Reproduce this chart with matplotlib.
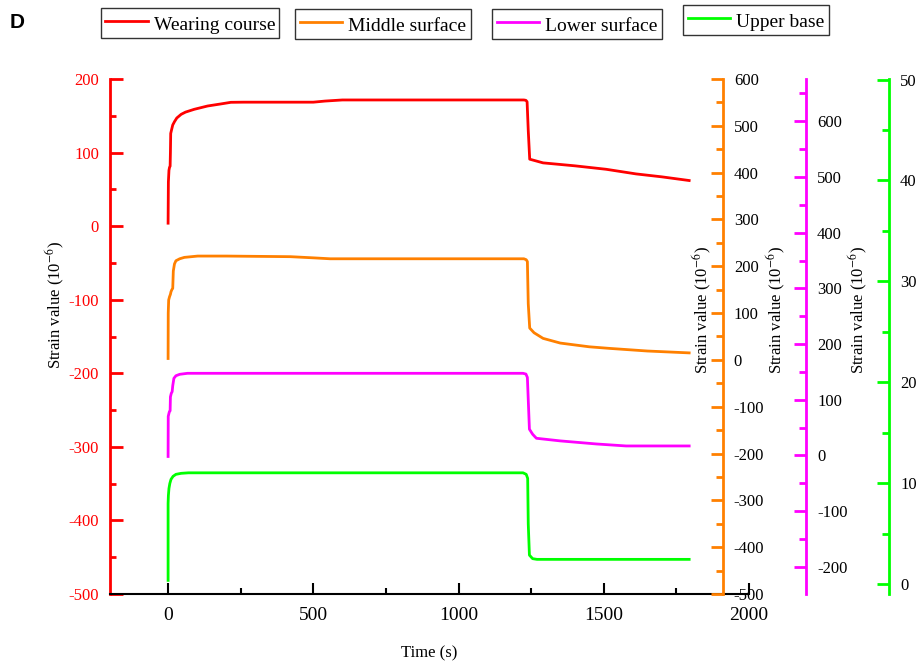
import numpy as np
import matplotlib.pyplot as plt
from matplotlib.ticker import MultipleLocator
from matplotlib.lines import Line2D

plt.rcParams['font.family'] = ['Liberation Serif', 'DejaVu Serif']
plt.rcParams['mathtext.fontset'] = 'stix'
plt.rcParams['axes.unicode_minus'] = False

# wearing course (left axis)
t_wc = [0, 1, 3, 5, 7, 8, 9, 12, 16, 22, 30, 45, 60, 90, 136, 180, 216, 260, 500, 540, 600,
        1225, 1232, 1236, 1240, 1245, 1291, 1400, 1508, 1611, 1700, 1794]
s_wc = [4, 60, 76, 80, 81.5, 100, 126, 131, 137.5, 142, 147, 152, 155, 158.8, 163.3, 166, 168.3, 168.5, 168.5, 170, 171.5,
        171.5, 171, 169, 130, 91, 86, 82, 77.3, 71, 67, 62]

# middle surface (orange axis)
t_ms = [0, 0.5, 2, 5, 8, 10, 13, 16, 18, 22, 27, 40, 56, 102, 200, 421, 500, 558,
        1225, 1233, 1237, 1240, 1245, 1260, 1291, 1350, 1450, 1520, 1650, 1794]
s_ms = [3, 100, 128, 135, 140, 145.6, 150, 153, 190, 205, 211.8, 216, 219, 221.8, 221.8, 220.5, 218, 216,
        216, 214, 210, 120, 68, 58, 46, 36, 28, 24.6, 19, 15]

# lower surface (magenta axis)
t_ls = [0, 0.5, 3, 4.5, 7, 8, 11, 14, 16, 20, 27, 40, 67, 1222, 1232, 1237, 1240, 1244,
        1255, 1268, 1350, 1474, 1577, 1794]
s_ls = [-2, 70, 75.6, 78.5, 80, 105, 111.5, 114.4, 125, 138.4, 143, 145.6, 147.4, 147.4, 146, 140, 100, 47,
        38, 30.7, 26, 20.5, 16.9, 16.9]

# upper base (green axis)
t_ub = [0, 0, 1, 3, 6, 10, 17, 27, 45, 70, 1222, 1233, 1238, 1240, 1244, 1255, 1270, 1794]
s_ub = [0.4, 8.0, 8.8, 9.5, 10.0, 10.4, 10.7, 10.9, 11.0, 11.05, 11.05, 10.9, 10.5, 6.0, 2.9, 2.55, 2.48, 2.48]

c_red = '#FF0000'
c_org = '#FF8000'
c_mag = '#FF00FF'
c_grn = '#00FF00'

fig = plt.figure(figsize=(9.2, 6.62), dpi=100)
ax = fig.add_axes([110/920, 1-594/662, 639/920, 515/662])

ax.plot(t_wc, s_wc, color=c_red, lw=2)
ax.set_xlim(-200, 2000)
ax.set_ylim(-500, 200)
ax.xaxis.set_major_locator(MultipleLocator(500))
ax.xaxis.set_minor_locator(MultipleLocator(250))
ax.yaxis.set_major_locator(MultipleLocator(100))
ax.yaxis.set_minor_locator(MultipleLocator(50))
ax.spines['top'].set_visible(False)
ax.spines['right'].set_visible(False)
ax.spines['left'].set_color(c_red)
ax.spines['left'].set_linewidth(2)
ax.spines['bottom'].set_linewidth(1.5)
ax.tick_params(axis='y', which='both', direction='in', colors=c_red, labelsize=12, width=2, pad=8)
ax.tick_params(axis='y', which='major', length=9)
ax.tick_params(axis='y', which='minor', length=4)
ax.tick_params(axis='x', which='both', direction='in', labelsize=14, width=1.5, pad=9)
ax.tick_params(axis='x', which='major', length=8)
ax.tick_params(axis='x', which='minor', length=4)
ax.set_xlabel('Time (s)', fontsize=12, labelpad=16)

def extra_axis(pos, col, lo, hi, major, minor, t, s):
    a = ax.twinx()
    a.plot(t, s, color=col, lw=2)
    a.set_ylim(lo, hi)
    for k in ['top', 'left', 'bottom']:
        a.spines[k].set_visible(False)
    a.spines['right'].set_position(('axes', pos))
    a.spines['right'].set_color(col)
    a.spines['right'].set_linewidth(2)
    a.yaxis.set_major_locator(MultipleLocator(major))
    a.yaxis.set_minor_locator(MultipleLocator(minor))
    a.tick_params(axis='y', which='both', direction='in', color=col, labelcolor='black', labelsize=12, width=2)
    a.tick_params(axis='y', which='major', length=9, pad=8)
    a.tick_params(axis='y', which='minor', length=5)
    return a

ax_o = extra_axis(612.7/639, c_org, -500, 600, 100, 50, t_ms, s_ms)
ax_m = extra_axis(696/639, c_mag, -249, 676, 100, 50, t_ls, s_ls)
ax_g = extra_axis(779/639, c_grn, -0.95, 50.05, 10, 5, t_ub, s_ub)

lab = 'Strain value (10$^{-6}$)'
fig.text(55/920, 1-305/662, lab, rotation=90, ha='center', va='center', fontsize=12)
for xp in [702, 776, 858]:
    fig.text(xp/920, 1-310/662, lab, rotation=90, ha='center', va='center', fontsize=12)

fig.text(10/920, 1-22/662, 'D', fontsize=15, fontweight='bold', family='Liberation Sans', va='center')

names = ['Wearing course', 'Middle surface', 'Lower surface', 'Upper base']
cols = [c_red, c_org, c_mag, c_grn]
centers = [(190, 23), (383, 24), (577, 24), (756, 20)]
for n, c, (cx, cy) in zip(names, cols, centers):
    h = Line2D([], [], color=c, lw=2)
    lg = fig.legend([h], [n], loc='center', bbox_to_anchor=(cx/920, 1-cy/662),
                    fontsize=14, frameon=True, fancybox=False, edgecolor='black',
                    handlelength=2.2, handleheight=1.3, handletextpad=0.3,
                    borderpad=0.22, borderaxespad=0)
    lg.get_frame().set_linewidth(1)

fig.savefig('out.png', dpi=100)
